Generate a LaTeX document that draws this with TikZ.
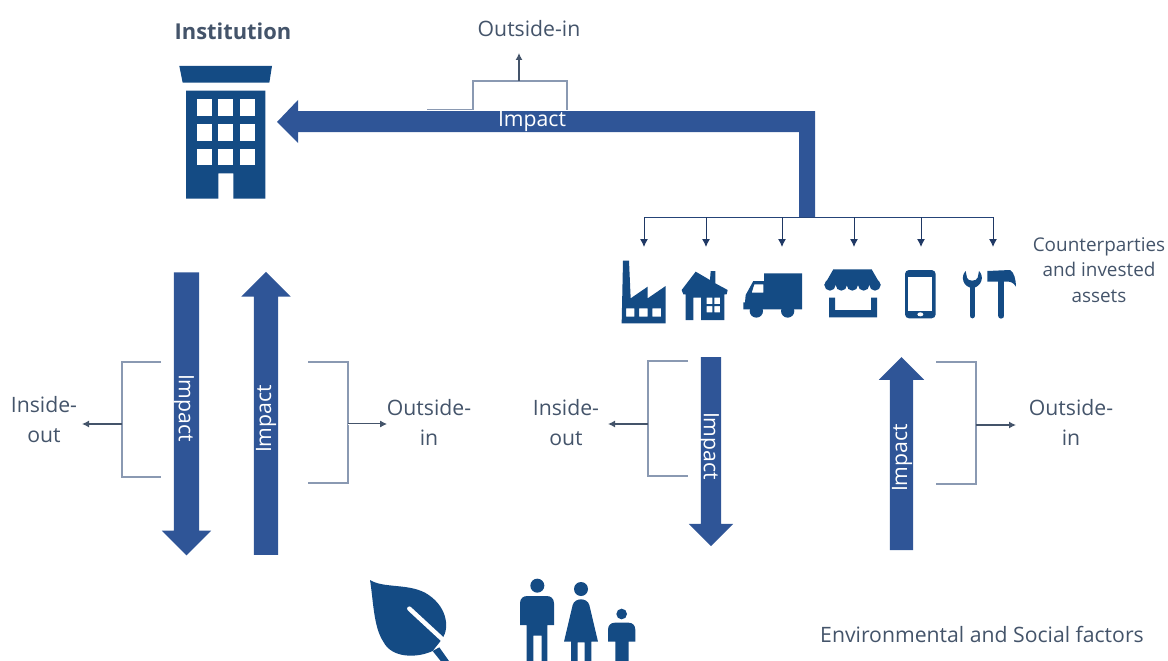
\documentclass[tikz,border=0pt]{standalone}
\usepackage{fontspec}
\setmainfont{Open Sans}
\usetikzlibrary{shapes.arrows,arrows.meta}
\definecolor{impactblue}{HTML}{2F5597}
\definecolor{iconblue}{HTML}{144B84}
\definecolor{textgrey}{HTML}{44546A}
\definecolor{bracketgrey}{HTML}{8A99B2}
\definecolor{navyline}{HTML}{1F3864}
\tikzstyle{impactdown}=[single arrow,fill=impactblue,inner sep=0pt,single arrow head indent=0pt,rotate=-90]
\tikzstyle{impactup}=[single arrow,fill=impactblue,inner sep=0pt,single arrow head indent=0pt,rotate=90]
\tikzstyle{impactlabel}=[text=white,font=\fontsize{21.2}{24}\selectfont,inner sep=0pt]
\tikzstyle{caption}=[text=textgrey,font=\fontsize{21.2}{30}\selectfont,align=center,inner sep=0pt]
\tikzstyle{smallcaption}=[text=textgrey,font=\fontsize{18.9}{25.5}\selectfont,align=center,inner sep=0pt]
\tikzstyle{bracket}=[draw=bracketgrey,line width=1.2pt]
\tikzstyle{outarrow}=[draw=textgrey,line width=1.2pt,-{Latex[length=7pt,width=7pt]}]
\tikzstyle{feedarrow}=[draw=navyline,line width=1pt,-{Latex[length=8pt,width=8pt]}]
\tikzstyle{icon}=[fill=iconblue,even odd rule]
\begin{document}
\begin{tikzpicture}[x=1pt,y=-1pt]
	\useasboundingbox (0,0) rectangle (1168,661);

%Labels
	\node[caption,font=\fontsize{21.9}{24}\selectfont\bfseries] (institution) at (233,31) {Institution};
	\node[caption] (topout) at (529,29) {Outside-in};
	\node[caption] (insideA) at (44,420) {Inside-\\out};
	\node[caption] (outsideA) at (429,422) {Outside-\\in};
	\node[caption] (insideB) at (566,423) {Inside-\\out};
	\node[caption] (outsideB) at (1071,422) {Outside-\\in};
	\node[smallcaption] (assets) at (1099,270) {Counterparties\\and invested\\assets};
	\node[caption] (factors) at (982,634) {Environmental and Social factors};

%Big arrow to the institution
	\fill[impactblue] (277,122) -- (298,100) -- (298,111) -- (815,111) -- (815,217) -- (799,217)
		-- (799,132) -- (298,132) -- (298,143) -- cycle;

%Vertical arrows
	\node[impactdown,inner ysep=12.5pt,minimum height=283pt,single arrow head extend=12pt] (downA) at (186.5,407.5) {};
	\node[impactup,inner ysep=12pt,minimum height=283pt,single arrow head extend=12.5pt] (upA) at (266,419.5) {};
	\node[impactdown,inner ysep=10pt,minimum height=189pt,single arrow head extend=12pt] (downB) at (711,446.5) {};
	\node[impactup,inner ysep=11.5pt,minimum height=193pt,single arrow head extend=11pt] (upB) at (901.5,459.5) {};

	\node[impactlabel] (impacttop) at (532,121) {Impact};
	\node[impactlabel,rotate=-90] (impactA) at (184,408) {Impact};
	\node[impactlabel,rotate=90] (impactC) at (266,419) {Impact};
	\node[impactlabel,rotate=-90] (impactB) at (709,446) {Impact};
	\node[impactlabel,rotate=90] (impactD) at (902,458) {Impact};

%Bracket corners and free ends
	\foreach \pos/\name in {{(427,109.5)/ta}, {(473,109.5)/tb}, {(473,81)/tc}, {(567,81)/td}, {(567,110)/te}, {(519,81)/tf}, {(519,53)/tg},
		{(161,362)/aa}, {(122,362)/ab}, {(122,477)/ac}, {(161,477)/ad}, {(122,424)/ae}, {(82,424)/af},
		{(308,362)/ba}, {(348,362)/bb}, {(348,483)/bc}, {(308,483)/bd}, {(348,424)/be}, {(387,424)/bf},
		{(688,361)/ca}, {(648,361)/cb}, {(648,476)/cc}, {(688,476)/cd}, {(648,424)/ce}, {(608,424)/cf},
		{(936,362)/da}, {(976,362)/db}, {(976,484)/dc}, {(936,484)/dd}, {(976,425)/de}, {(1016,425)/df}}
		\node[coordinate] (\name) at \pos {};

	\draw[bracket] (ta) -- (tb) -- (tc) -- (td) -- (te);
	\draw[bracket] (aa) -- (ab) -- (ac) -- (ad);
	\draw[bracket] (ba) -- (bb) -- (bc) -- (bd);
	\draw[bracket] (ca) -- (cb) -- (cc) -- (cd);
	\draw[bracket] (da) -- (db) -- (dc) -- (dd);

	\foreach \source/\dest in {tf/tg, ae/af, ce/cf, de/df}
		\draw[outarrow] (\source) -- (\dest);
	\draw[outarrow,double,double distance=0.8pt,line width=0.9pt] (be) -- (bf);

%Feed line to the counterparties
	\foreach \pos/\name in {{(644,217)/fa}, {(706,217)/fb}, {(782,217)/fc}, {(854,217)/fd}, {(921,217)/fe}, {(993,217)/ff}}
		\node[coordinate] (\name) at \pos {};
	\draw[draw=navyline!60!impactblue,line width=1pt] (fa) -- (ff);
	\foreach \source in {fa,fb,fc,fd,fe,ff}
		\draw[feedarrow] (\source) -- ++(0,30);

%Building
	\begin{scope}[shift={(160,0)},scale=1/3]
		\fill[icon] (58,198) -- (336,198) -- (328,248) -- (68,248) -- cycle;
		\fill[icon] (78,272) -- (316,272) -- (316,596) -- (220,596) -- (220,520) -- (175,520) -- (175,596) -- (78,596) -- cycle;
		\foreach \px in {110,175,240}
			\foreach \py in {298,372,446}
				\fill[white] (\px,\py) rectangle ++(45,50);
	\end{scope}

%Factory, house, truck
	\begin{scope}[shift={(615,255)},scale=1/3]
		\fill[icon] (20,205) -- (24,17) -- (42,17) -- (47,130) -- (98,95) -- (98,130) -- (152,93) -- (152,205) -- cycle
			(33,160) rectangle (58,185) (72,160) rectangle (98,185) (112,160) rectangle (138,185);
		\fill[icon] (200,105) -- (242,50) -- (285,75) -- (287,48) -- (301,48) -- (301,85) -- (338,105) -- (335,118) -- (328,118)
			-- (328,195) -- (258,195) -- (258,128) -- (235,128) -- (235,195) -- (212,195) -- (212,118) -- (205,118) -- cycle
			(275,128) rectangle (292,147) (298,128) rectangle (315,147) (275,153) rectangle (292,172) (298,153) rectangle (315,172);
		\fill[icon] (447,55) -- (561,55) -- (561,163) -- (385,163) -- (385,142) -- (390,142) -- (392,120) -- (415,78) -- (447,78) -- cycle
			(418,88) -- (445,88) -- (445,113) -- (410,113) -- cycle;
		\fill[icon] (424,168) circle (20) (518,168) circle (20);
	\end{scope}

%Shop, phone, tools
	\begin{scope}[shift={(815,255)},scale=1/3]
		\fill[icon] (28,90) -- (55,43) -- (170,43) -- (197,90) -- cycle;
		\foreach \px in {45,79,112,146,180}
			\fill[icon] (\px,90) circle (17);
		\fill[icon] (42,128) -- (60,128) -- (60,165) -- (168,165) -- (168,128) -- (186,128) -- (186,187) -- (42,187) -- cycle;
		\fill[icon,rounded corners=4pt] (270,45) rectangle (362,190);
		\fill[white] (280,67) rectangle (352,168);
		\fill[white] (316,178) ellipse (9 and 6);
		\draw[iconblue,line width=5.5pt,line cap=round] (472,92) -- (472,182);
		\fill[icon] (452,48) .. controls (435,65) and (445,97) .. (472,99) .. controls (498,97) and (510,65) .. (492,48)
			-- (488,68) .. controls (485,80) and (458,80) .. (456,68) -- cycle;
		\draw[iconblue,line width=6pt,line cap=round] (559,72) -- (559,182);
		\fill[icon] (517,48) -- (585,45) .. controls (597,50) and (603,75) .. (603,95) .. controls (595,82) and (585,78) .. (570,80)
			-- (530,80) -- (517,80) -- cycle;
	\end{scope}

%Leaf and people
	\begin{scope}[shift={(350,570)},scale=1/3]
		\fill[icon] (60,30) .. controls (100,55) and (170,40) .. (225,68) .. controls (290,105) and (300,170) .. (278,205)
			-- (248,243) .. controls (200,265) and (125,265) .. (100,215) .. controls (70,170) and (70,90) .. (60,30) -- cycle;
		\draw[white,line width=4.5pt,line cap=round] (178,116) -- (285,215);
		\fill[icon] (248,243) -- (268,232) -- (297,273) -- (272,273) -- cycle;
		\fill[icon] (562,47) circle (21);
		\fill[icon] (510,165) -- (510,100) .. controls (510,85) and (520,78) .. (532,78) -- (590,78) .. controls (602,78) and (612,85) .. (612,100)
			-- (612,165) -- (592,165) -- (592,273) -- (575,273) -- (575,197) -- (550,197) -- (550,273) -- (530,273) -- (530,165) -- cycle;
		\fill[icon] (693,57) circle (21);
		\fill[icon] (642,215) -- (668,105) .. controls (672,93) and (682,88) .. (693,88) .. controls (704,88) and (714,93) .. (718,105)
			-- (744,215) -- (724,215) -- (724,273) -- (704,273) -- (704,217) -- (683,217) -- (683,273) -- (663,273) -- (663,215) -- cycle;
		\fill[icon] (815,132) circle (16);
		\fill[icon] (774,215) -- (774,180) .. controls (774,166) and (782,158) .. (795,158) -- (835,158) .. controls (848,158) and (856,166) .. (856,180)
			-- (856,215) -- (836,215) -- (836,273) -- (796,273) -- (796,215) -- cycle;
	\end{scope}

\end{tikzpicture}
\end{document}
